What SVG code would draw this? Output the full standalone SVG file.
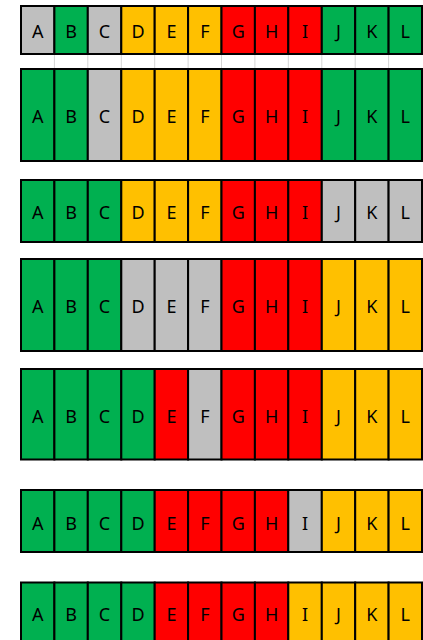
<svg xmlns="http://www.w3.org/2000/svg" width="423" height="640" viewBox="0 0 423 640">
<style>
rect{stroke:#000;stroke-width:2}
.g{fill:#00B050}.y{fill:#FFC000}.r{fill:#FF0000}.s{fill:#BFBFBF}
text{font-family:"Noto Sans","Open Sans",sans-serif;font-size:18px;fill:#000;text-anchor:middle}
.grid{stroke:#D4D4D4;stroke-width:1}
</style>
<rect width="423" height="640" fill="#fff" style="stroke:none"/>
<g id="gridlines" class="grid">
<line x1="54.4" y1="55" x2="54.4" y2="68"/><line x1="87.8" y1="55" x2="87.8" y2="68"/><line x1="121.3" y1="55" x2="121.3" y2="68"/><line x1="154.7" y1="55" x2="154.7" y2="68"/><line x1="188.1" y1="55" x2="188.1" y2="68"/><line x1="221.5" y1="55" x2="221.5" y2="68"/><line x1="254.9" y1="55" x2="254.9" y2="68"/><line x1="288.3" y1="55" x2="288.3" y2="68"/><line x1="321.8" y1="55" x2="321.8" y2="68"/><line x1="355.2" y1="55" x2="355.2" y2="68"/><line x1="388.6" y1="55" x2="388.6" y2="68"/>
</g>
<defs>
<g id="labels">
<text x="37.7">A</text><text x="71.1">B</text><text x="104.5">C</text><text x="138">D</text><text x="171.4">E</text><text x="204.8">F</text><text x="238.2">G</text><text x="271.6">H</text><text x="305">I</text><text x="338.5">J</text><text x="371.9">K</text><text x="405.3">L</text>
</g>
</defs>
<g id="row1">
<rect class="s" x="21" y="6" width="33.4" height="48"/><rect class="g" x="54.4" y="6" width="33.4" height="48"/><rect class="s" x="87.8" y="6" width="33.5" height="48"/><rect class="y" x="121.3" y="6" width="33.4" height="48"/><rect class="y" x="154.7" y="6" width="33.4" height="48"/><rect class="y" x="188.1" y="6" width="33.4" height="48"/><rect class="r" x="221.5" y="6" width="33.4" height="48"/><rect class="r" x="254.9" y="6" width="33.4" height="48"/><rect class="r" x="288.3" y="6" width="33.5" height="48"/><rect class="g" x="321.8" y="6" width="33.4" height="48"/><rect class="g" x="355.2" y="6" width="33.4" height="48"/><rect class="g" x="388.6" y="6" width="33.4" height="48"/>
<use href="#labels" y="38.3"/>
</g>
<g id="row2">
<rect class="g" x="21" y="69" width="33.4" height="92"/><rect class="g" x="54.4" y="69" width="33.4" height="92"/><rect class="s" x="87.8" y="69" width="33.5" height="92"/><rect class="y" x="121.3" y="69" width="33.4" height="92"/><rect class="y" x="154.7" y="69" width="33.4" height="92"/><rect class="y" x="188.1" y="69" width="33.4" height="92"/><rect class="r" x="221.5" y="69" width="33.4" height="92"/><rect class="r" x="254.9" y="69" width="33.4" height="92"/><rect class="r" x="288.3" y="69" width="33.5" height="92"/><rect class="g" x="321.8" y="69" width="33.4" height="92"/><rect class="g" x="355.2" y="69" width="33.4" height="92"/><rect class="g" x="388.6" y="69" width="33.4" height="92"/>
<use href="#labels" y="122.6"/>
</g>
<g id="row3">
<rect class="g" x="21" y="180" width="33.4" height="62"/><rect class="g" x="54.4" y="180" width="33.4" height="62"/><rect class="g" x="87.8" y="180" width="33.5" height="62"/><rect class="y" x="121.3" y="180" width="33.4" height="62"/><rect class="y" x="154.7" y="180" width="33.4" height="62"/><rect class="y" x="188.1" y="180" width="33.4" height="62"/><rect class="r" x="221.5" y="180" width="33.4" height="62"/><rect class="r" x="254.9" y="180" width="33.4" height="62"/><rect class="r" x="288.3" y="180" width="33.5" height="62"/><rect class="s" x="321.8" y="180" width="33.4" height="62"/><rect class="s" x="355.2" y="180" width="33.4" height="62"/><rect class="s" x="388.6" y="180" width="33.4" height="62"/>
<use href="#labels" y="219.2"/>
</g>
<g id="row4">
<rect class="g" x="21" y="259" width="33.4" height="92"/><rect class="g" x="54.4" y="259" width="33.4" height="92"/><rect class="g" x="87.8" y="259" width="33.5" height="92"/><rect class="s" x="121.3" y="259" width="33.4" height="92"/><rect class="s" x="154.7" y="259" width="33.4" height="92"/><rect class="s" x="188.1" y="259" width="33.4" height="92"/><rect class="r" x="221.5" y="259" width="33.4" height="92"/><rect class="r" x="254.9" y="259" width="33.4" height="92"/><rect class="r" x="288.3" y="259" width="33.5" height="92"/><rect class="y" x="321.8" y="259" width="33.4" height="92"/><rect class="y" x="355.2" y="259" width="33.4" height="92"/><rect class="y" x="388.6" y="259" width="33.4" height="92"/>
<use href="#labels" y="312.6"/>
</g>
<g id="row5">
<rect class="g" x="21" y="369" width="33.4" height="90.5"/><rect class="g" x="54.4" y="369" width="33.4" height="90.5"/><rect class="g" x="87.8" y="369" width="33.5" height="90.5"/><rect class="g" x="121.3" y="369" width="33.4" height="90.5"/><rect class="r" x="154.7" y="369" width="33.4" height="90.5"/><rect class="s" x="188.1" y="369" width="33.4" height="90.5"/><rect class="r" x="221.5" y="369" width="33.4" height="90.5"/><rect class="r" x="254.9" y="369" width="33.4" height="90.5"/><rect class="r" x="288.3" y="369" width="33.5" height="90.5"/><rect class="y" x="321.8" y="369" width="33.4" height="90.5"/><rect class="y" x="355.2" y="369" width="33.4" height="90.5"/><rect class="y" x="388.6" y="369" width="33.4" height="90.5"/>
<use href="#labels" y="423.2"/>
</g>
<g id="row6">
<rect class="g" x="21" y="490" width="33.4" height="62"/><rect class="g" x="54.4" y="490" width="33.4" height="62"/><rect class="g" x="87.8" y="490" width="33.5" height="62"/><rect class="g" x="121.3" y="490" width="33.4" height="62"/><rect class="r" x="154.7" y="490" width="33.4" height="62"/><rect class="r" x="188.1" y="490" width="33.4" height="62"/><rect class="r" x="221.5" y="490" width="33.4" height="62"/><rect class="r" x="254.9" y="490" width="33.4" height="62"/><rect class="s" x="288.3" y="490" width="33.5" height="62"/><rect class="y" x="321.8" y="490" width="33.4" height="62"/><rect class="y" x="355.2" y="490" width="33.4" height="62"/><rect class="y" x="388.6" y="490" width="33.4" height="62"/>
<use href="#labels" y="529.5"/>
</g>
<g id="row7">
<rect class="g" x="21" y="582.5" width="33.4" height="80"/><rect class="g" x="54.4" y="582.5" width="33.4" height="80"/><rect class="g" x="87.8" y="582.5" width="33.5" height="80"/><rect class="g" x="121.3" y="582.5" width="33.4" height="80"/><rect class="r" x="154.7" y="582.5" width="33.4" height="80"/><rect class="r" x="188.1" y="582.5" width="33.4" height="80"/><rect class="r" x="221.5" y="582.5" width="33.4" height="80"/><rect class="r" x="254.9" y="582.5" width="33.4" height="80"/><rect class="y" x="288.3" y="582.5" width="33.5" height="80"/><rect class="y" x="321.8" y="582.5" width="33.4" height="80"/><rect class="y" x="355.2" y="582.5" width="33.4" height="80"/><rect class="y" x="388.6" y="582.5" width="33.4" height="80"/>
<use href="#labels" y="620.5"/>
</g>
</svg>
